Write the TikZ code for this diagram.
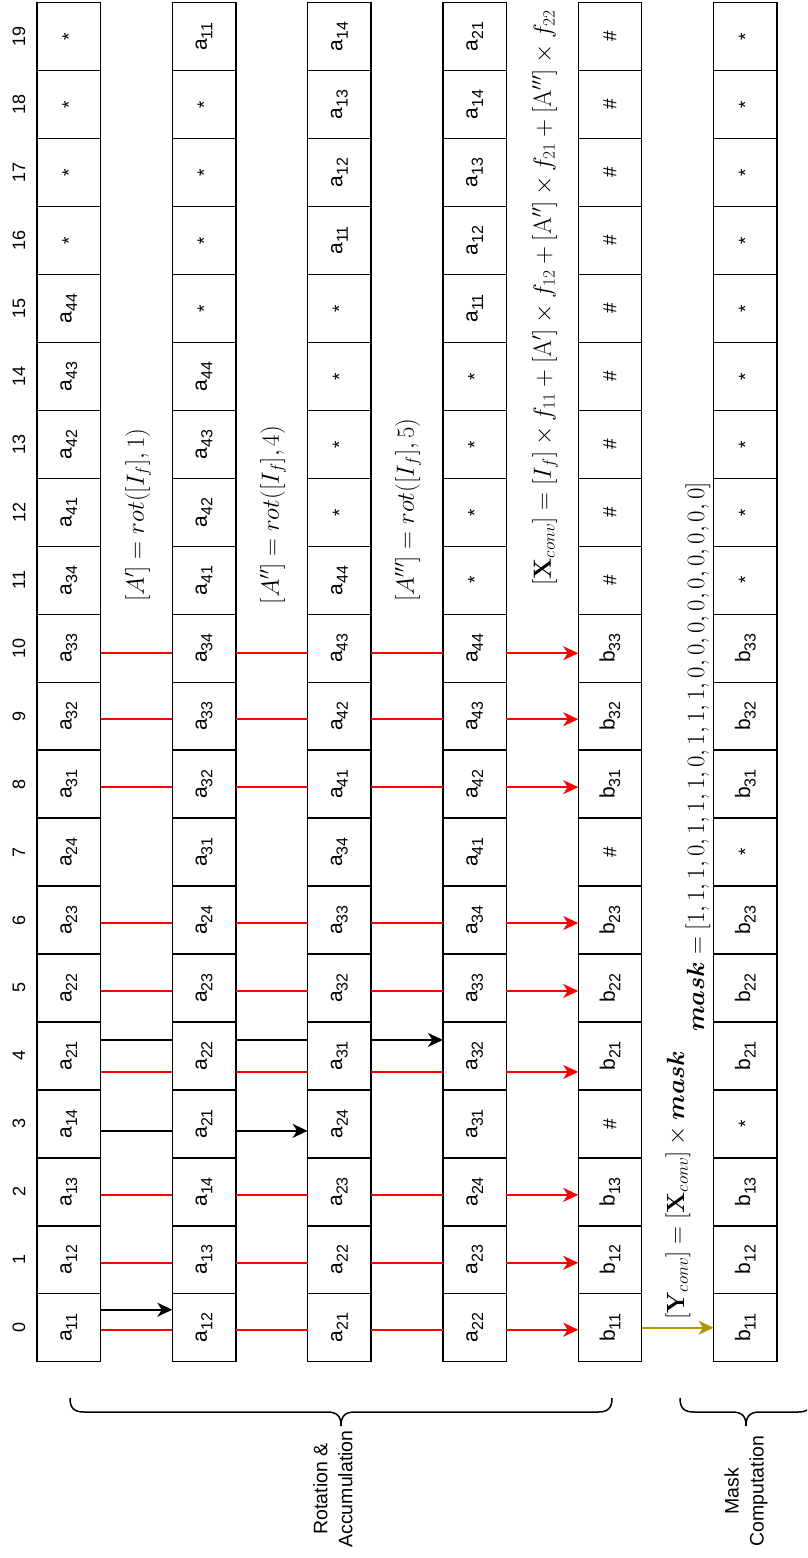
\documentclass[tikz,border=0pt]{standalone}
\usepackage{amsmath}
\usepackage[no-math]{fontspec}
\setmainfont{Liberation Sans}
\usepackage{graphicx}
\usetikzlibrary{arrows.meta}
\definecolor{olivearrow}{HTML}{B09500}
\definecolor{redline}{HTML}{FF0000}
\newcommand\cellA[1]{a\raisebox{-5.5pt}{\fontsize{16}{16}\selectfont #1}}
\newcommand\cellB[1]{b\raisebox{-5.5pt}{\fontsize{16}{16}\selectfont #1}}
\newcommand\cellStar{{\fontsize{19}{19}\selectfont *}}
\newcommand\cellHash{{\fontsize{19}{19}\selectfont \#}}
\begin{document}
\begin{tikzpicture}[x=1pt,y=-1pt,
  cell/.style={draw, line width=1.4pt, fill=white, minimum width=63.5pt,
    minimum height=67.95pt, inner sep=0pt, outer sep=0pt,
    font=\fontsize{21}{24}\selectfont},
  idx/.style={rotate=90, inner sep=0pt, font=\fontsize{18}{20}\selectfont},
  mathlbl/.style={rotate=90, inner sep=0pt, font=\fontsize{24}{28}\selectfont},
  bracelbl/.style={rotate=90, inner sep=0pt, align=center,
    font=\fontsize{19.5}{25}\selectfont},
  tip/.style={-{Stealth[length=15pt,width=14pt,inset=4.5pt]}},
  redconn/.style={draw=redline, line width=1.6pt},
  redarrow/.style={redconn, tip},
  blackconn/.style={draw=black, line width=1.6pt},
  blackarrow/.style={blackconn, tip},
  olivearr/.style={draw=olivearrow, line width=1.6pt, tip},
  bracepath/.style={draw, line width=1.5pt}
]
\clip (0,0) rectangle (807,1558);
\fill[white] (0,0) rectangle (807,1558);

% index labels
\foreach \i in {0,...,19}
  \node[idx] (n\i) at (19,{1361.7-67.95*(\i+0.5)}) {\i};

% strip 1
\foreach \t [count=\i from 0] in {\cellA{11},\cellA{12},\cellA{13},\cellA{14},\cellA{21},\cellA{22},\cellA{23},\cellA{24},\cellA{31},\cellA{32},\cellA{33},\cellA{34},\cellA{41},\cellA{42},\cellA{43},\cellA{44},\cellStar,\cellStar,\cellStar,\cellStar}
  \node[cell] (s1c\i) at (68.75,{1361.7-67.95*(\i+0.5)}) {\rotatebox{90}{\t}};
% strip 2
\foreach \t [count=\i from 0] in {\cellA{12},\cellA{13},\cellA{14},\cellA{21},\cellA{22},\cellA{23},\cellA{24},\cellA{31},\cellA{32},\cellA{33},\cellA{34},\cellA{41},\cellA{42},\cellA{43},\cellA{44},\cellStar,\cellStar,\cellStar,\cellStar,\cellA{11}}
  \node[cell] (s2c\i) at (204.05,{1361.7-67.95*(\i+0.5)}) {\rotatebox{90}{\t}};
% strip 3
\foreach \t [count=\i from 0] in {\cellA{21},\cellA{22},\cellA{23},\cellA{24},\cellA{31},\cellA{32},\cellA{33},\cellA{34},\cellA{41},\cellA{42},\cellA{43},\cellA{44},\cellStar,\cellStar,\cellStar,\cellStar,\cellA{11},\cellA{12},\cellA{13},\cellA{14}}
  \node[cell] (s3c\i) at (339.35,{1361.7-67.95*(\i+0.5)}) {\rotatebox{90}{\t}};
% strip 4
\foreach \t [count=\i from 0] in {\cellA{22},\cellA{23},\cellA{24},\cellA{31},\cellA{32},\cellA{33},\cellA{34},\cellA{41},\cellA{42},\cellA{43},\cellA{44},\cellStar,\cellStar,\cellStar,\cellStar,\cellA{11},\cellA{12},\cellA{13},\cellA{14},\cellA{21}}
  \node[cell] (s4c\i) at (474.65,{1361.7-67.95*(\i+0.5)}) {\rotatebox{90}{\t}};
% strip 5
\foreach \t [count=\i from 0] in {\cellB{11},\cellB{12},\cellB{13},\cellHash,\cellB{21},\cellB{22},\cellB{23},\cellHash,\cellB{31},\cellB{32},\cellB{33},\cellHash,\cellHash,\cellHash,\cellHash,\cellHash,\cellHash,\cellHash,\cellHash,\cellHash}
  \node[cell] (s5c\i) at (609.95,{1361.7-67.95*(\i+0.5)}) {\rotatebox{90}{\t}};
% strip 6
\foreach \t [count=\i from 0] in {\cellB{11},\cellB{12},\cellB{13},\cellStar,\cellB{21},\cellB{22},\cellB{23},\cellStar,\cellB{31},\cellB{32},\cellB{33},\cellStar,\cellStar,\cellStar,\cellStar,\cellStar,\cellStar,\cellStar,\cellStar,\cellStar}
  \node[cell] (s6c\i) at (745.25,{1361.7-67.95*(\i+0.5)}) {\rotatebox{90}{\t}};

% red accumulation connectors
\foreach \i/\d in {0/-2pt,1/-3pt,2/-3pt,4/-16pt,5/-3pt,6/-3pt,8/-3pt,9/-3pt,10/-5pt} {
  \draw[redconn] ([yshift=\d]s1c\i.east) -- ([yshift=\d]s2c\i.west);
  \draw[redconn] ([yshift=\d]s2c\i.east) -- ([yshift=\d]s3c\i.west);
  \draw[redconn] ([yshift=\d]s3c\i.east) -- ([yshift=\d]s4c\i.west);
  \draw[redarrow] ([yshift=\d]s4c\i.east) -- ([yshift=\d]s5c\i.west);
}
% black rotation connectors
\draw[blackarrow] ([yshift=18pt]s1c0.east) -- ([yshift=18pt]s2c0.west);
\draw[blackconn] ([yshift=-7pt]s1c3.east) -- ([yshift=-7pt]s2c3.west);
\draw[blackarrow] ([yshift=-7pt]s2c3.east) -- ([yshift=-7pt]s3c3.west);
\draw[blackconn] ([yshift=16pt]s1c4.east) -- ([yshift=16pt]s2c4.west);
\draw[blackconn] ([yshift=16pt]s2c4.east) -- ([yshift=16pt]s3c4.west);
\draw[blackarrow] ([yshift=16pt]s3c4.east) -- ([yshift=16pt]s4c4.west);
% mask arrow
\draw[olivearr] (s5c0.east) -- (s6c0.west);

% formula labels
\node[mathlbl] (lA1) at (138,515) {$[A'] = rot([I_f],1)$};
\node[mathlbl] (lA2) at (273,515) {$[A''] = rot([I_f],4)$};
\node[mathlbl] (lA3) at (408,510) {$[A'''] = rot([I_f],5)$};
\node[mathlbl] (lX) at (545,298) {$[\mathbf{X}_{conv}] = [I_f]\times f_{11} + [\mathrm{A}']\times f_{12} + [\mathrm{A}'']\times f_{21} + [\mathrm{A}''']\times f_{22}$};
\node[mathlbl] (lY) at (678,1185) {$[\mathbf{Y}_{conv}] = [\mathbf{X}_{conv}]\times \boldsymbol{mask}$};
\node[mathlbl] (lM) at (698,757) {$\boldsymbol{mask} = [1,1,1,0,1,1,1,0,1,1,1,0,0,0,0,0,0,0,0,0]$};

% braces
\draw[bracepath] (70,1398) .. controls (70,1408) and (74,1412) .. (84,1412) -- (327,1412)
  .. controls (337,1412) and (341,1416) .. (341,1426)
  .. controls (341,1416) and (345,1412) .. (355,1412) -- (598,1412)
  .. controls (608,1412) and (612,1408) .. (612,1398);
\draw[bracepath] (680,1398) .. controls (680,1408) and (684,1412) .. (694,1412) -- (732,1412)
  .. controls (742,1412) and (746,1416) .. (746,1426)
  .. controls (746,1416) and (750,1412) .. (760,1412) -- (798,1412)
  .. controls (808,1412) and (812,1408) .. (812,1398);
\node[bracelbl] (lrot) at (333,1489) {Rotation \&\\Accumulation};
\node[bracelbl] (lmask) at (746,1491) {Mask\\Computation};
\end{tikzpicture}
\end{document}
